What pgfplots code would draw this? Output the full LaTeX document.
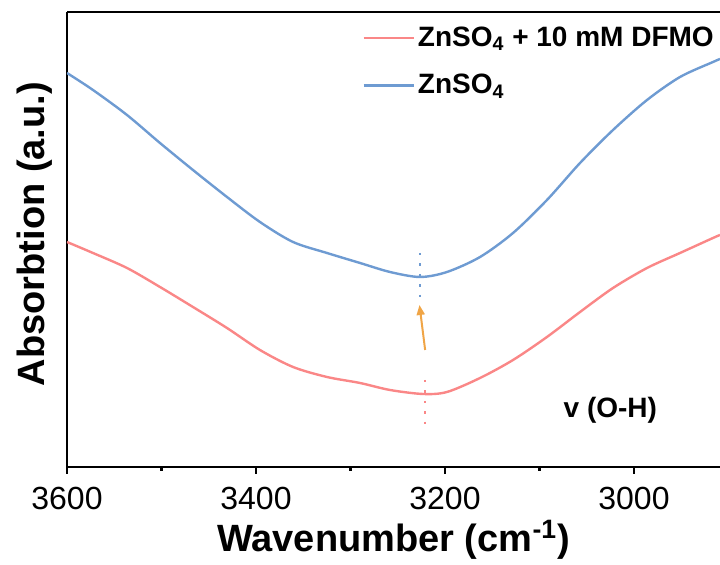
\documentclass[border=0pt]{standalone}
\usepackage{fontspec}
\setmainfont{Liberation Sans}
\usepackage{pgfplots}
\pgfplotsset{compat=1.18}
\usetikzlibrary{arrows.meta}
\definecolor{cred}{RGB}{250,135,135}
\definecolor{cblue}{RGB}{110,155,210}
\definecolor{corange}{RGB}{240,165,70}
\begin{document}
\begin{tikzpicture}
\begin{axis}[
  name=ax,
  scale only axis,
  width=326.5pt, height=227.5pt,
  x dir=reverse,
  xmin=2909, xmax=3600,
  ymin=98, ymax=553,
  axis y line*=left,
  axis line style={line width=1.25pt},
  xtick={3600,3400,3200,3000},
  minor xtick={3500,3300,3100},
  ytick=\empty,
  xtick pos=bottom,
  tick align=outside,
  major tick length=3.5pt,
  minor tick length=2pt,
  every tick/.style={black, line width=1.1pt},
  /pgf/number format/assume math mode=true,
  /pgf/number format/1000 sep={},
  xticklabel style={font=\fontsize{16}{18}\selectfont, yshift=-3pt},
  xlabel={\textbf{Wavenumber (cm\textsuperscript{-1})}},
  ylabel={\textbf{Absorbtion (a.u.)}},
  label style={font=\fontsize{19}{22}\selectfont},
  xlabel style={at={(axis description cs:0.5,0)}, anchor=center, yshift=-36.5pt},
  ylabel style={at={(axis description cs:-0.049,0.512)}, anchor=center},
  legend style={draw=none, fill=none, at={(axis description cs:0.452,0.975)}, anchor=north west,
    font=\bfseries\fontsize{14}{16}\selectfont, row sep=9.5pt, inner sep=0pt,
    nodes={inner sep=1.5pt, anchor=west}},
  legend cell align=left,
  legend image code/.code={\draw[#1, line width=1.2pt] (0pt,0pt) -- (25pt,0pt);},
  clip=true,
]
\addplot[cred, line width=1.2pt, smooth] coordinates {
(3600,323) (3572.5,312) (3536.5,297) (3501.6,278) (3466.7,258) (3430.7,237)
(3395.8,215) (3360.8,198) (3324.9,188) (3289.9,182) (3258.2,175) (3223.3,171)
(3197.9,173) (3162.9,187) (3128.0,205) (3092.1,228) (3057.1,253) (3022.2,277)
(2986.2,297) (2951.3,312) (2916.4,327) (2909,330)
};
\addlegendentry{ZnSO\textsubscript{4} + 10 mM DFMO}
\addplot[cblue, line width=1.2pt, smooth] coordinates {
(3600,492) (3572.5,475) (3536.5,450) (3501.6,422) (3466.7,395) (3430.7,368)
(3395.8,343) (3360.8,323) (3324.9,312) (3289.9,302) (3258.2,293) (3226.5,288)
(3197.9,293) (3162.9,308) (3128.0,332) (3092.1,365) (3057.1,402) (3022.2,435)
(2986.2,465) (2951.3,488) (2916.4,503) (2909,506)
};
\addlegendentry{ZnSO\textsubscript{4}}
\addplot[cblue, line width=1pt, dash pattern=on 1.2pt off 4pt, forget plot] coordinates {(3226.5,312) (3226.5,265)};
\addplot[cred, line width=1pt, dash pattern=on 1.2pt off 4pt, forget plot] coordinates {(3221,185) (3221,140)};
\addplot[corange, line width=1pt, -{Triangle[length=5pt,width=4pt]}, forget plot] coordinates {(3221,215) (3227,260)};
\node[font=\bfseries\fontsize{14}{16}\selectfont] at (axis cs:3025,155) {v (O-H)};
\end{axis}
\pgfresetboundingbox
\path[use as bounding box] (ax.south west) ++(-33.5pt,-49pt) rectangle ++(360pt,282.5pt);
\end{tikzpicture}
\end{document}
